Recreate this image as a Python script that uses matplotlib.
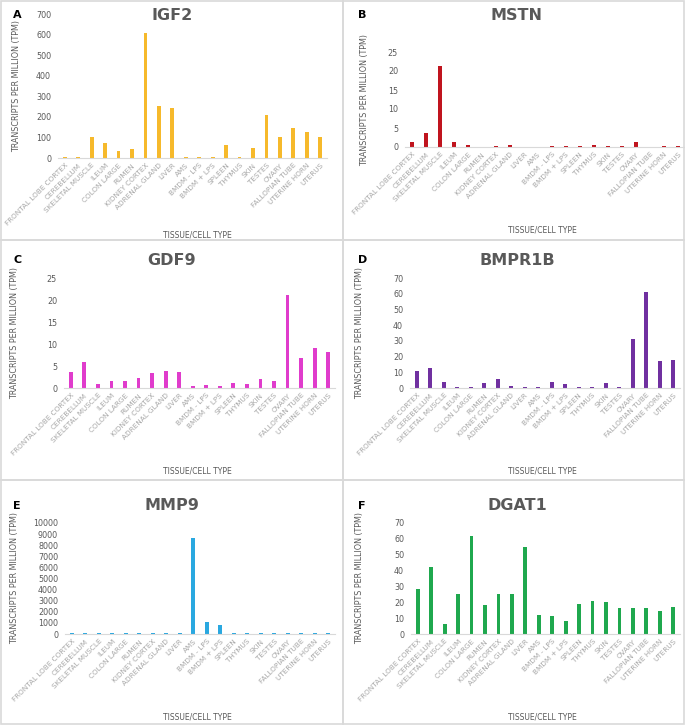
import matplotlib.pyplot as plt
from matplotlib.patches import Rectangle

tissues = ["Frontal lobe cortex", "Cerebellum", "Skeletal muscle", "Ileum", "Colon large",
           "Rumen", "Kidney cortex", "Adrenal gland", "Liver", "AMs", "BMDM - LPS",
           "BMDM + LPS", "Spleen", "Thymus", "Skin", "Testes", "Ovary", "Fallopian tube",
           "Uterine horn", "Uterus"]

igf2 = [5, 5, 100, 72, 35, 45, 610, 255, 242, 5, 5, 5, 62, 5, 50, 207, 100, 145, 127, 100]
mstn = [1.4, 3.6, 21.4, 1.4, 0.6, 0, 0.3, 0.6, 0, 0, 0.3, 0.3, 0.3, 0.6, 0.3, 0.3, 1.2, 0, 0.3, 0.3]
gdf9 = [3.6, 5.8, 0.9, 1.5, 1.5, 2.2, 3.4, 3.9, 3.6, 0.5, 0.7, 0.5, 1.1, 0.9, 2.0, 1.5, 21.1, 6.8, 9.2, 8.1]
bmpr1b = [10.8, 12.6, 3.6, 0.5, 0.8, 3.0, 6.0, 1.4, 0.6, 0.6, 3.6, 2.5, 0.6, 0.6, 3.0, 0.6, 31.2, 60.8, 17.3, 17.9]
mmp9 = [80, 80, 80, 80, 80, 80, 80, 80, 80, 8650, 1100, 850, 80, 80, 80, 80, 80, 80, 80, 80]
dgat1 = [28.5, 42, 6.5, 25, 62, 18, 25, 25.5, 55, 12, 11.5, 8.5, 19, 21, 20, 16.5, 16.5, 16.5, 14.5, 17]

W, H = 685, 725
fig = plt.figure(figsize=(W / 100, H / 100), dpi=100)

GRAY = "#595959"
LIGHT = "#a6a6a6"

# panel borders
for (x0, y0, x1, y1) in [(1, 1, 343, 240), (343, 1, 684, 240), (1, 240, 343, 480),
                         (343, 240, 684, 480), (1, 480, 343, 724), (343, 480, 684, 724)]:
    fig.patches.append(Rectangle((x0 / W, 1 - y1 / H), (x1 - x0) / W, (y1 - y0) / H,
                                 transform=fig.transFigure, fill=False,
                                 edgecolor="#d9d9d9", linewidth=1.2))

# letter, gene, values, colour, ymax, ystep, plot box (l, t, r, b) in px,
# panel x offset, header y, y-label x, x-label y
panels = [
    ("A", "IGF2", igf2, "#f6b92b", 700, 100, (58, 14, 327, 158), 0, 15, 17, 235),
    ("B", "MSTN", mstn, "#c0141e", 25, 5, (405, 52, 685, 147), 345, 15, 365, 230),
    ("C", "GDF9", gdf9, "#e03ccc", 25, 5, (64, 278, 335, 388), 0, 260, 15, 471),
    ("D", "BMPR1B", bmpr1b, "#7030a0", 70, 10, (410, 278, 680, 388), 345, 260, 360, 471),
    ("E", "MMP9", mmp9, "#2aa8e0", 10000, 1000, (65, 523, 335, 634), 0, 506, 15, 717),
    ("F", "DGAT1", dgat1, "#1fa84e", 70, 10, (411, 523, 680, 634), 345, 506, 360, 717),
]

for letter, gene, vals, color, ymax, ystep, (l, t, r, b), ox, hy, ylx, xly in panels:
    ax = fig.add_axes([l / W, 1 - b / H, (r - l) / W, (b - t) / H])
    ax.bar(range(len(tissues)), vals, width=0.28, color=color)
    ax.set_xlim(-0.5, len(tissues) - 0.5)
    ax.set_ylim(0, ymax)
    ax.set_yticks(range(0, ymax + 1, ystep))
    ax.set_xticks(range(len(tissues)))
    ax.set_xticklabels([s.upper() for s in tissues], rotation=45, ha="right",
                       rotation_mode="anchor", fontsize=5.2, color=LIGHT)
    ax.tick_params(axis="y", length=0, labelsize=5.8, labelcolor=GRAY, pad=5)
    ax.tick_params(axis="x", length=0, pad=3)
    for side in ["top", "right", "left"]:
        ax.spines[side].set_visible(False)
    ax.spines["bottom"].set_color("#d9d9d9")
    ax.set_facecolor("none")

    fig.text(ylx / W, 1 - (t + b) / 2 / H, "TRANSCRIPTS PER MILLION (TPM)", fontsize=5.8,
             color=GRAY, rotation=90, ha="center", va="center")
    fig.text((ox + 172) / W, 1 - hy / H, gene, fontsize=11.5, fontweight="bold",
             color=GRAY, ha="center", va="center")
    fig.text((ox + 13) / W, 1 - hy / H, letter, fontsize=8, fontweight="bold",
             color="black", ha="left", va="center")
    fig.text((ox + 197) / W, 1 - xly / H, "TISSUE/CELL TYPE", fontsize=5.5,
             color=GRAY, ha="center", va="center")

fig.savefig("out.png", dpi=100)
